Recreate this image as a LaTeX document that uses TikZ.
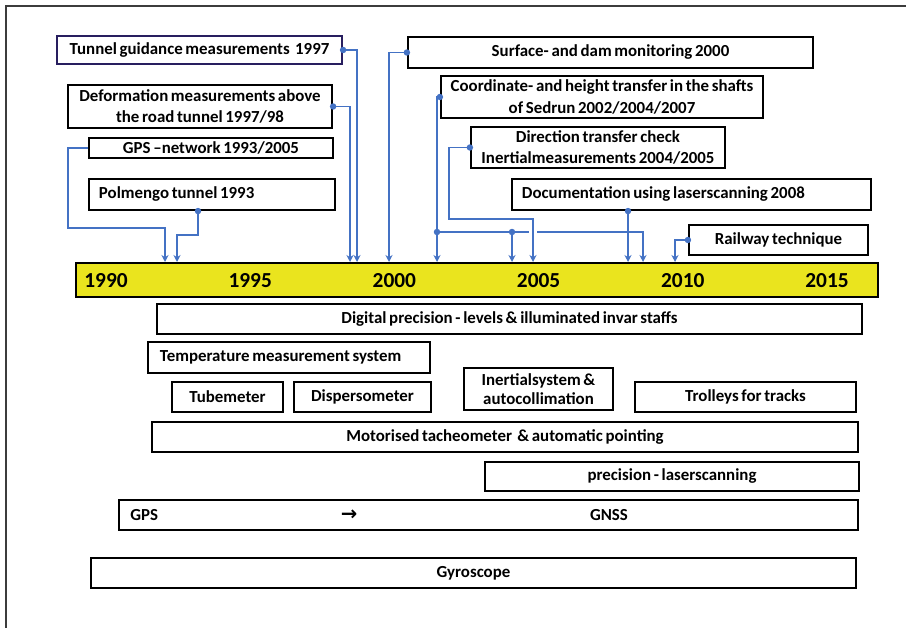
\documentclass[tikz,border=0pt]{standalone}
\usepackage{fontspec}
\setmainfont{Carlito}[WordSpace=0.7]
\newfontfamily\arrowfont{DejaVu Sans}
\usepackage{tikz}
\usetikzlibrary{
    positioning,
    arrows.meta,
    calc,
    backgrounds
}
\definecolor{lineBlue}{RGB}{68, 114, 196}
\definecolor{barYellow}{RGB}{234, 228, 30}
\definecolor{frameGray}{RGB}{60, 60, 60}
\definecolor{boxNavy}{RGB}{40, 30, 95}

\tikzset{
    box/.style={draw=black, line width=1.5pt, fill=white, inner sep=0pt, align=center,
        font=\bfseries\fontsize{12}{15}\selectfont},
    tool/.style={box, font=\bfseries\fontsize{12}{14}\selectfont},
    plain/.style={inner sep=0pt, font=\bfseries\fontsize{12}{14}\selectfont},
    link/.style={lineBlue, line width=1.3pt, -{Stealth[length=5pt, width=5pt]}},
    yearlabel/.style={font=\bfseries\fontsize{15.2}{17}\selectfont}
}

\begin{document}
\begin{tikzpicture}[x=0.025cm, y=-0.025cm]
        \useasboundingbox (0,0) rectangle (906,628);

        % Frame
        \draw[frameGray, line width=1.3pt] (6,628) -- (6,6) -- (906,6);

        % Events above the time line
        \node[box, draw=boxNavy, minimum width=7.125cm, minimum height=0.7cm] (tunnel) at (199.5,50) {Tunnel guidance measurements\ \ 1997};
        \node[box, minimum width=6.6cm, minimum height=1.075cm] (deform) at (200,106.5) {Deformation measurements above\\the road tunnel 1997/98};
        \node[box, minimum width=6.1cm, minimum height=0.5cm] (gpsnet) at (211,148) {GPS –network 1993/2005};
        \node[box, minimum width=6.15cm, minimum height=0.775cm, text width=5.65cm, align=flush left] (polmengo) at (212,194.5) {Polmengo tunnel 1993};
        \node[box, minimum width=10.125cm, minimum height=0.775cm] (surface) at (610.5,52.5) {Surface- and dam monitoring 2000};
        \node[box, minimum width=8.05cm, minimum height=1.05cm] (shafts) at (602,97) {Coordinate- and height transfer in the shafts\\of Sedrun 2002/2004/2007};
        \node[box, minimum width=6.35cm, minimum height=1.025cm] (direction) at (598,147.5) {Direction transfer check\\Inertialmeasurements 2004/2005};
        \node[box, minimum width=8.975cm, minimum height=0.775cm, text width=8.475cm, align=flush left] (laserdoc) at (691.5,194.5) {Documentation using laserscanning 2008};
        \node[box, minimum width=4.475cm, minimum height=0.75cm] (railway) at (778.5,240) {Railway technique};

        % Time line
        \node[draw, line width=1.5pt, fill=barYellow, inner sep=0pt, minimum width=20.05cm, minimum height=0.85cm] (bar) at (477,280) {};
        \foreach \yr in {1990,1995,...,2015}
            \node[yearlabel] (y\yr) at ({106+28.84*(\yr-1990)},281) {\yr};

        % Arrow ends on the time line
        \coordinate (gpsEnd) at (165,262);
        \coordinate (polEnd) at (177,262);
        \coordinate (defEnd) at (350,262);
        \coordinate (tunEnd) at (357,262);
        \coordinate (surfEnd) at (389,262);
        \coordinate (shaft02) at (437,262);
        \coordinate (shaft04) at (512,262);
        \coordinate (dirEnd) at (533,262);
        \coordinate (docEnd) at (628,262);
        \coordinate (shaft07) at (643,262);
        \coordinate (railEnd) at (675,262);
        \coordinate (jShaft) at (437,232);
        \coordinate (jShaft04) at (512,232);

        % Connectors
        \begin{scope}[on background layer]
            \draw[link] (gpsnet.west) -| (68,228) -| (gpsEnd);
            \draw[link] ($(polmengo.south)+(-14,0)$) |- (177,235) -- (polEnd);
            \draw[link] (deform.east) -| (defEnd);
            \draw[link] (tunnel.east) -| (tunEnd);
            \draw[link] (surface.west) -| (surfEnd);
            \draw[link] (shafts.west) -| (shaft02);
            \draw[link] (jShaft) -| (shaft07);
            \draw[link] (jShaft04) -- (shaft04);
            \draw[link, preaction={draw=white, line width=5pt}] (direction.west) -| (449,219) -| (dirEnd);
            \draw[link] ($(laserdoc.south)+(-63.5,0)$) -- (docEnd);
            \draw[link] (railway.west) -| (railEnd);
        \end{scope}

        \fill[lineBlue] (tunnel.east) circle (2.3pt);
        \fill[lineBlue] (deform.east) circle (2.3pt);
        \fill[lineBlue] ($(polmengo.south)+(-14,0)$) circle (2.3pt);
        \fill[lineBlue] (surface.west) circle (2.3pt);
        \fill[lineBlue] (shafts.west) circle (2.3pt);
        \fill[lineBlue] (jShaft) circle (2.3pt);
        \fill[lineBlue] (jShaft04) circle (2.3pt);
        \fill[lineBlue] (direction.west) circle (2.3pt);
        \fill[lineBlue] ($(laserdoc.south)+(-63.5,0)$) circle (2.3pt);
        \fill[lineBlue] (railway.west) circle (2.3pt);

        % Techniques below the time line
        \node[tool, minimum width=17.625cm, minimum height=0.75cm] (levels) at (509.5,319) {Digital precision - levels \& illuminated invar staffs};
        \node[tool, minimum width=7.05cm, minimum height=0.775cm, text width=6.45cm, align=flush left] (temp) at (289,357.5) {Temperature measurement system};
        \node[tool, minimum width=2.775cm, minimum height=0.75cm] (tube) at (227.5,397) {Tubemeter};
        \node[tool, minimum width=3.425cm, minimum height=0.75cm] (disp) at (362.5,397) {Dispersometer};
        \node[tool, minimum width=3.725cm, minimum height=1.05cm] (inertial) at (538.5,389) {Inertialsystem \&\\autocollimation};
        \node[tool, minimum width=5.525cm, minimum height=0.75cm] (trolley) at (745.5,397) {Trolleys for tracks};
        \node[tool, minimum width=17.65cm, minimum height=0.75cm] (tacheo) at (505,437) {Motorised tacheometer\ \ \& automatic pointing};
        \node[tool, minimum width=9.35cm, minimum height=0.725cm] (scan) at (672,476.5) {precision - laserscanning};
        \node[tool, minimum width=18.475cm, minimum height=0.75cm] (gnss) at (488.5,515) {};
        \node[plain, anchor=west] (gpsLabel) at (130,515) {GPS};
        \node[plain] (gpsArrow) at (349,515) {\arrowfont\bfseries\fontsize{14}{16}\selectfont →};
        \node[plain] (gnssLabel) at (609,515) {GNSS};
        \node[tool, minimum width=19.125cm, minimum height=0.75cm] (gyro) at (473.5,573) {Gyroscope};
    \end{tikzpicture}
\end{document}
